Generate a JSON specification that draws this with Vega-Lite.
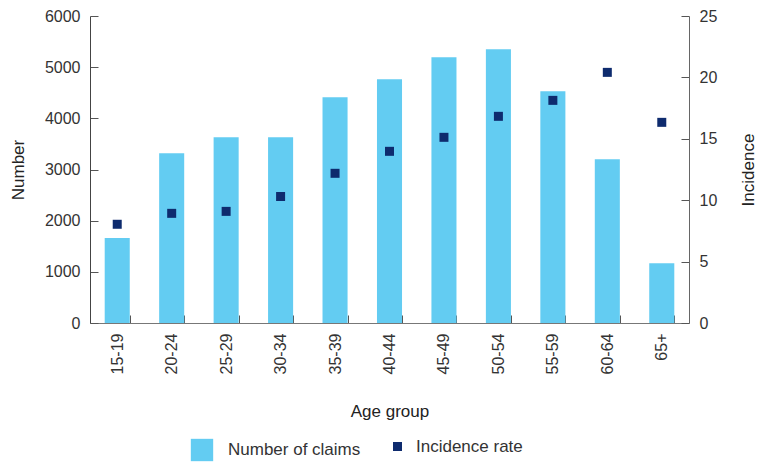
{
  "$schema": "https://vega.github.io/schema/vega-lite/v6.json",
  "width": 599,
  "height": 307,
  "autosize": {"type": "none"},
  "padding": {"left": 90, "top": 16, "right": 70, "bottom": 142},
  "config": {
    "view": {"stroke": null},
    "font": "Liberation Sans",
    "axis": {
      "grid": false,
      "labelFontSize": 16,
      "labelColor": "#333",
      "labelPadding": 18,
      "titleFontSize": 17,
      "titleFontWeight": "normal",
      "titleColor": "#222",
      "tickColor": "#555",
      "domainColor": "#444",
      "tickSize": -8
    },
    "legend": {"labelFontSize": 17, "labelColor": "#333", "labelFont": "Liberation Sans"}
  },
  "data": {
    "values": [
      {"age": "15-19", "claims": 1660, "rate": 8.04},
      {"age": "20-24", "claims": 3320, "rate": 8.93},
      {"age": "25-29", "claims": 3630, "rate": 9.09},
      {"age": "30-34", "claims": 3630, "rate": 10.3},
      {"age": "35-39", "claims": 4410, "rate": 12.19},
      {"age": "40-44", "claims": 4765, "rate": 13.98},
      {"age": "45-49", "claims": 5195, "rate": 15.12},
      {"age": "50-54", "claims": 5350, "rate": 16.83},
      {"age": "55-59", "claims": 4530, "rate": 18.13},
      {"age": "60-64", "claims": 3200, "rate": 20.41},
      {"age": "65+", "claims": 1170, "rate": 16.34}
    ]
  },
  "encoding": {
    "x": {
      "field": "age",
      "type": "nominal",
      "sort": null,
      "scale": {"paddingInner": 0.54, "paddingOuter": 0.27},
      "axis": {
        "title": "Age group",
        "labelAngle": -90,
        "tickBand": "extent",
        "labelPadding": 18,
        "titlePadding": 30,
        "domainColor": "#777"
      }
    }
  },
  "layer": [
    {
      "mark": {"type": "bar", "color": "#63CCF2"},
      "encoding": {
        "y": {
          "field": "claims",
          "type": "quantitative",
          "scale": {"domain": [0, 6000]},
          "axis": {"title": "Number", "format": "d", "values": [0, 1000, 2000, 3000, 4000, 5000, 6000], "titlePadding": 17}
        },
        "color": {
          "datum": "Number of claims",
          "scale": {"range": ["#63CCF2"]},
          "legend": {"orient": "none", "legendX": 100, "legendY": 422, "title": null, "symbolType": "square", "symbolSize": 500, "labelOffset": 14}
        }
      }
    },
    {
      "mark": {"type": "point", "shape": "square", "filled": true, "opacity": 1, "size": 81},
      "encoding": {
        "y": {
          "field": "rate",
          "type": "quantitative",
          "scale": {"domain": [0, 25]},
          "axis": {"orient": "right", "title": "Incidence", "values": [0, 5, 10, 15, 20, 25], "titleAngle": -90, "titlePadding": 41, "domainColor": "#666"}
        },
        "color": {
          "datum": "Incidence rate",
          "scale": {"range": ["#0E2B6E"]},
          "legend": {"orient": "none", "legendX": 299, "legendY": 422, "title": null, "symbolType": "square", "symbolSize": 81, "labelOffset": 10}
        }
      }
    }
  ],
  "resolve": {"scale": {"y": "independent", "color": "independent"}}
}
